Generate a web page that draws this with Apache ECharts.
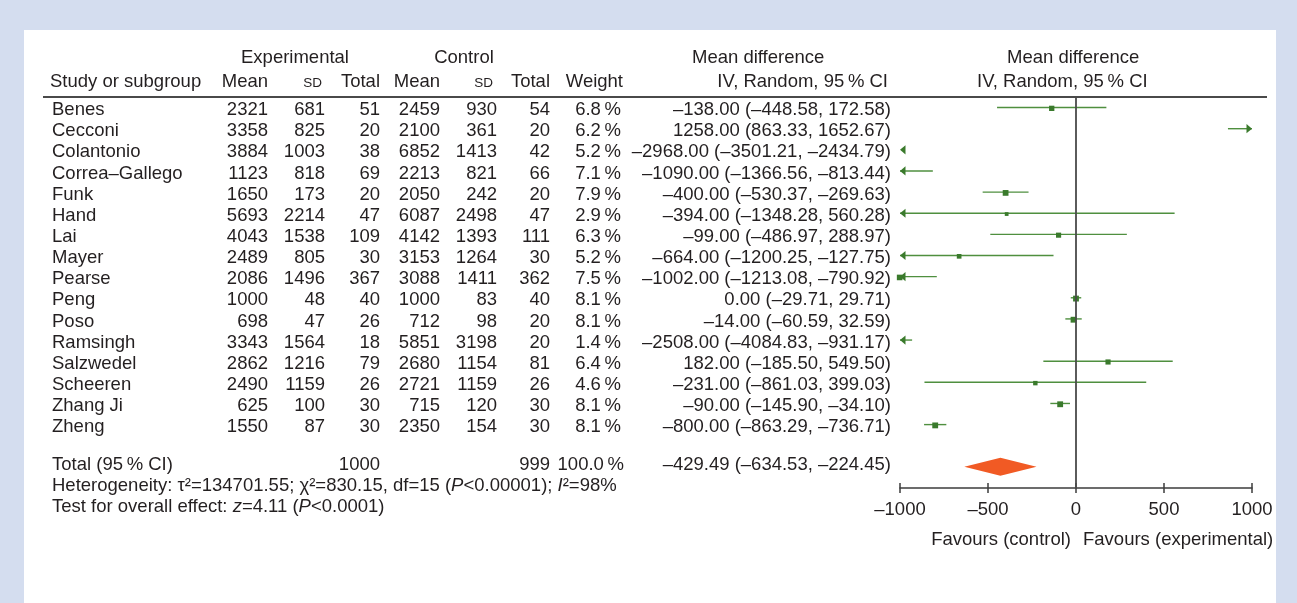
<!DOCTYPE html>
<html>
<head>
<meta charset="utf-8">
<script src="https://cdn.jsdelivr.net/npm/echarts@6/dist/echarts.min.js"></script>
<style>
  html, body { margin: 0; padding: 0; background: #d4ddef; }
  #chart { width: 1297px; height: 603px; }
</style>
</head>
<body>
<div id="chart"></div>
<script>
// Forest plot: mean difference (IV, random effects, 95% CI)
const studies = ['Benes', 'Cecconi', 'Colantonio', 'Correa\u2013Gallego', 'Funk', 'Hand', 'Lai', 'Mayer',
  'Pearse', 'Peng', 'Poso', 'Ramsingh', 'Salzwedel', 'Scheeren', 'Zhang Ji', 'Zheng'];
const expMean = [2321, 3358, 3884, 1123, 1650, 5693, 4043, 2489, 2086, 1000, 698, 3343, 2862, 2490, 625, 1550];
const expSD = [681, 825, 1003, 818, 173, 2214, 1538, 805, 1496, 48, 47, 1564, 1216, 1159, 100, 87];
const expN = [51, 20, 38, 69, 20, 47, 109, 30, 367, 40, 26, 18, 79, 26, 30, 30];
const ctlMean = [2459, 2100, 6852, 2213, 2050, 6087, 4142, 3153, 3088, 1000, 712, 5851, 2680, 2721, 715, 2350];
const ctlSD = [930, 361, 1413, 821, 242, 2498, 1393, 1264, 1411, 83, 98, 3198, 1154, 1159, 120, 154];
const ctlN = [54, 20, 42, 66, 20, 47, 111, 30, 362, 40, 20, 20, 81, 26, 30, 30];
const weight = [6.8, 6.2, 5.2, 7.1, 7.9, 2.9, 6.3, 5.2, 7.5, 8.1, 8.1, 1.4, 6.4, 4.6, 8.1, 8.1];
const meanDiff = [-138.00, 1258.00, -2968.00, -1090.00, -400.00, -394.00, -99.00, -664.00,
  -1002.00, 0.00, -14.00, -2508.00, 182.00, -231.00, -90.00, -800.00];
const ciLow = [-448.58, 863.33, -3501.21, -1366.56, -530.37, -1348.28, -486.97, -1200.25,
  -1213.08, -29.71, -60.59, -4084.83, -185.50, -861.03, -145.90, -863.29];
const ciHigh = [172.58, 1652.67, -2434.79, -813.44, -269.63, 560.28, 288.97, -127.75,
  -790.92, 29.71, 32.59, -931.17, 549.50, 399.03, -34.10, -736.71];

const totalExpN = 1000;
const totalCtlN = 999;
const totalWeight = 100.0;
const totalDiff = -429.49;
const totalLow = -634.53;
const totalHigh = -224.45;

const heterogeneity = { tau2: '134701.55', chi2: '830.15', df: 15, p: '<0.00001', i2: '98%' };
const overallEffect = { z: '4.11', p: '<0.0001' };

const axisTicks = [-1000, -500, 0, 500, 1000];

// ---- formatting helpers ----
const FONT = 'Liberation Sans, Arial, Helvetica, sans-serif';
const FS = 18.5;
const INK = '#231f20';
const dash = v => (v < 0 ? '\u2013' : '') + Math.abs(v);
const num2 = v => (v < 0 ? '\u2013' : '') + Math.abs(v).toFixed(2);
const fmtW = w => w.toFixed(1) + '\u2009%';
const fmtCI = (m, l, h) => num2(m) + ' (' + num2(l) + ', ' + num2(h) + ')';

const TOTAL_ROW = 17;
const chart = echarts.init(document.getElementById('chart'));

// table columns: x anchor and alignment
const cols = [
  { x: 52, a: 'left' }, { x: 268, a: 'right' }, { x: 325, a: 'right' }, { x: 380, a: 'right' },
  { x: 440, a: 'right' }, { x: 497, a: 'right' }, { x: 550, a: 'right' }, { x: 621, a: 'right' },
  { x: 891, a: 'right' }
];

function txt(x, y, text, align, extra) {
  return {
    type: 'text', silent: true,
    style: Object.assign({
      x: x, y: y, text: text, textAlign: align, textVerticalAlign: 'middle',
      fontSize: FS, fontFamily: FONT, fill: INK
    }, extra || {})
  };
}

const italic = { fontStyle: 'italic', fontSize: FS, fontFamily: FONT, fill: INK };
const plain = { fontSize: FS, fontFamily: FONT, fill: INK };

// table rows: studies, then total, heterogeneity and overall-effect lines
const tableData = studies.map((_, i) => [0, i]).concat([[0, TOTAL_ROW], [0, TOTAL_ROW + 1], [0, TOTAL_ROW + 2]]);

function renderTable(params, api) {
  const i = params.dataIndex;
  const row = api.value(1);
  const yc = api.coord([0, row])[1];
  if (i < studies.length) {
    const y = yc + 2.5;
    const cells = [studies[i], expMean[i], expSD[i], expN[i], ctlMean[i], ctlSD[i], ctlN[i],
      fmtW(weight[i]), fmtCI(meanDiff[i], ciLow[i], ciHigh[i])];
    return { type: 'group', children: cells.map((c, k) => txt(cols[k].x, y, String(c), cols[k].a)) };
  }
  const y = yc - 2;
  const k = i - studies.length;
  if (k === 0) {
    return { type: 'group', children: [
      txt(cols[0].x, y, 'Total (95\u2009% CI)', 'left'),
      txt(cols[3].x, y, String(totalExpN), 'right'),
      txt(cols[6].x, y, String(totalCtlN), 'right'),
      txt(cols[7].x + 3, y, fmtW(totalWeight), 'right'),
      txt(cols[8].x, y, fmtCI(totalDiff, totalLow, totalHigh), 'right')
    ] };
  }
  if (k === 1) {
    const h = heterogeneity;
    const s = '{n|Heterogeneity: \u03c4\u00b2=' + h.tau2 + '; \u03c7\u00b2=' + h.chi2 + ', df=' + h.df +
      ' (}{i|P}{n|' + h.p + '); }{i|I}{n|\u00b2=' + h.i2 + '}';
    return txt(cols[0].x, y, s, 'left', { rich: { n: plain, i: italic } });
  }
  const s = '{n|Test for overall effect: }{i|z}{n|=' + overallEffect.z + ' (}{i|P}{n|' + overallEffect.p + ')}';
  return txt(cols[0].x, y, s, 'left', { rich: { n: plain, i: italic } });
}

// study confidence intervals with arrows where they run past the axis
const ciData = studies.map((_, i) => [i, meanDiff[i], ciLow[i], ciHigh[i], weight[i]]);
const LINE_GREEN = '#4f8f3f';
const BOX_GREEN = '#3a7a2c';

function renderCI(params, api) {
  const row = api.value(0), m = api.value(1), lo = api.value(2), hi = api.value(3), w = api.value(4);
  const cs = params.coordSys;
  const xMin = cs.x, xMax = cs.x + cs.width;
  const y = api.coord([0, row])[1];
  const xl = api.coord([lo, row])[0], xh = api.coord([hi, row])[0], xm = api.coord([m, row])[0];
  const L = Math.max(xl, xMin), H = Math.min(xh, xMax);
  const kids = [];
  if (H > L) {
    kids.push({ type: 'line', shape: { x1: L, y1: y, x2: H, y2: y },
      style: { stroke: LINE_GREEN, lineWidth: 1.4 } });
  }
  const ah = 4.6, al = 5.5;
  if (xl < xMin) {
    kids.push({ type: 'polygon', shape: { points: [[xMin, y], [xMin + al, y - ah], [xMin + al, y + ah]] },
      style: { fill: BOX_GREEN } });
  }
  if (xh > xMax) {
    kids.push({ type: 'polygon', shape: { points: [[xMax, y], [xMax - al, y - ah], [xMax - al, y + ah]] },
      style: { fill: BOX_GREEN } });
  }
  const s = 2.6 + 0.4 * w;
  if (xm >= xMin - s && xm <= xMax + s) {
    kids.push({ type: 'rect', shape: { x: xm - s / 2, y: y - s / 2 + 0.8, width: s, height: s },
      style: { fill: BOX_GREEN } });
  }
  return { type: 'group', children: kids };
}

function renderDiamond(params, api) {
  const row = api.value(0);
  const c = api.coord([api.value(1), row]);
  const l = api.coord([api.value(2), row])[0];
  const h = api.coord([api.value(3), row])[0];
  const hh = 9;
  return { type: 'polygon', shape: { points: [[l, c[1]], [c[0], c[1] - hh], [h, c[1]], [c[0], c[1] + hh]] },
    style: { fill: '#f15a24' } };
}

const axisCommon = { type: 'value', min: -1000, max: 1000, interval: 500, gridIndex: 0, position: 'bottom' };
const tickStyle = { color: '#3c3c3c', width: 1.5 };

chart.setOption({
  animation: false,
  backgroundColor: '#d4ddef',
  grid: { left: 900, right: 45, top: 97, bottom: 115, containLabel: false },
  xAxis: [
    Object.assign({}, axisCommon, {
      axisLine: { show: true, onZero: false, lineStyle: { color: '#3c3c3c', width: 1.5 } },
      axisTick: { show: true, inside: false, length: 5, lineStyle: tickStyle },
      splitLine: { show: false },
      axisLabel: { margin: 12, color: INK, fontSize: FS, fontFamily: FONT,
        formatter: v => dash(v) }
    }),
    // same scale again, carrying the upward half of each tick mark
    Object.assign({}, axisCommon, {
      axisLine: { show: false, onZero: false },
      axisTick: { show: true, inside: true, length: 5, lineStyle: tickStyle },
      splitLine: { show: false },
      axisLabel: { show: false }
    })
  ],
  yAxis: { type: 'value', inverse: true, min: -0.5, max: 18, show: false, splitLine: { show: false } },
  graphic: [
    { type: 'rect', z: -10, shape: { x: 24, y: 30, width: 1252, height: 573 }, style: { fill: '#ffffff' } },
    { type: 'line', shape: { x1: 43, y1: 97, x2: 1267, y2: 97 }, style: { stroke: '#4a4a4a', lineWidth: 2 } },
    // column headers
    { type: 'text', style: { x: 295, y: 58, text: 'Experimental', textAlign: 'center', textVerticalAlign: 'middle', fontSize: FS, fontFamily: FONT, fill: INK } },
    { type: 'text', style: { x: 464, y: 58, text: 'Control', textAlign: 'center', textVerticalAlign: 'middle', fontSize: FS, fontFamily: FONT, fill: INK } },
    { type: 'text', style: { x: 692, y: 58, text: 'Mean difference', textAlign: 'left', textVerticalAlign: 'middle', fontSize: FS, fontFamily: FONT, fill: INK } },
    { type: 'text', style: { x: 1007, y: 58, text: 'Mean difference', textAlign: 'left', textVerticalAlign: 'middle', fontSize: FS, fontFamily: FONT, fill: INK } },
    { type: 'text', style: { x: 50, y: 82, text: 'Study or subgroup', textAlign: 'left', textVerticalAlign: 'middle', fontSize: FS, fontFamily: FONT, fill: INK } },
    { type: 'text', style: { x: 268, y: 82, text: 'Mean', textAlign: 'right', textVerticalAlign: 'middle', fontSize: FS, fontFamily: FONT, fill: INK } },
    { type: 'text', style: { x: 322, y: 83, text: 'SD', textAlign: 'right', textVerticalAlign: 'middle', fontSize: 13.5, fontFamily: FONT, fill: INK } },
    { type: 'text', style: { x: 380, y: 82, text: 'Total', textAlign: 'right', textVerticalAlign: 'middle', fontSize: FS, fontFamily: FONT, fill: INK } },
    { type: 'text', style: { x: 440, y: 82, text: 'Mean', textAlign: 'right', textVerticalAlign: 'middle', fontSize: FS, fontFamily: FONT, fill: INK } },
    { type: 'text', style: { x: 493, y: 83, text: 'SD', textAlign: 'right', textVerticalAlign: 'middle', fontSize: 13.5, fontFamily: FONT, fill: INK } },
    { type: 'text', style: { x: 550, y: 82, text: 'Total', textAlign: 'right', textVerticalAlign: 'middle', fontSize: FS, fontFamily: FONT, fill: INK } },
    { type: 'text', style: { x: 623, y: 82, text: 'Weight', textAlign: 'right', textVerticalAlign: 'middle', fontSize: FS, fontFamily: FONT, fill: INK } },
    { type: 'text', style: { x: 888, y: 82, text: 'IV, Random, 95\u2009% CI', textAlign: 'right', textVerticalAlign: 'middle', fontSize: FS, fontFamily: FONT, fill: INK } },
    { type: 'text', style: { x: 977, y: 82, text: 'IV, Random, 95\u2009% CI', textAlign: 'left', textVerticalAlign: 'middle', fontSize: FS, fontFamily: FONT, fill: INK } },
    // direction labels under the axis
    { type: 'text', style: { x: 1071, y: 540, text: 'Favours (control)', textAlign: 'right', textVerticalAlign: 'middle', fontSize: FS, fontFamily: FONT, fill: INK } },
    { type: 'text', style: { x: 1083, y: 540, text: 'Favours (experimental)', textAlign: 'left', textVerticalAlign: 'middle', fontSize: FS, fontFamily: FONT, fill: INK } }
  ],
  series: [
    {
      type: 'custom', name: 'table', xAxisIndex: 0, yAxisIndex: 0, clip: false, silent: true,
      encode: { x: 0, y: 1 }, data: tableData, renderItem: renderTable
    },
    {
      type: 'custom', name: 'studies', xAxisIndex: 0, yAxisIndex: 0, clip: false, silent: true,
      encode: { x: [1, 2, 3], y: 0 }, data: ciData, renderItem: renderCI,
      markLine: {
        silent: true, symbol: 'none', label: { show: false },
        lineStyle: { color: '#4a4a4a', width: 1.8, type: 'solid' },
        data: [{ xAxis: 0 }]
      }
    },
    {
      type: 'custom', name: 'total', xAxisIndex: 0, yAxisIndex: 0, clip: false, silent: true,
      encode: { x: [1, 2, 3], y: 0 }, data: [[TOTAL_ROW, totalDiff, totalLow, totalHigh]],
      renderItem: renderDiamond
    }
  ]
});
</script>
</body>
</html>
